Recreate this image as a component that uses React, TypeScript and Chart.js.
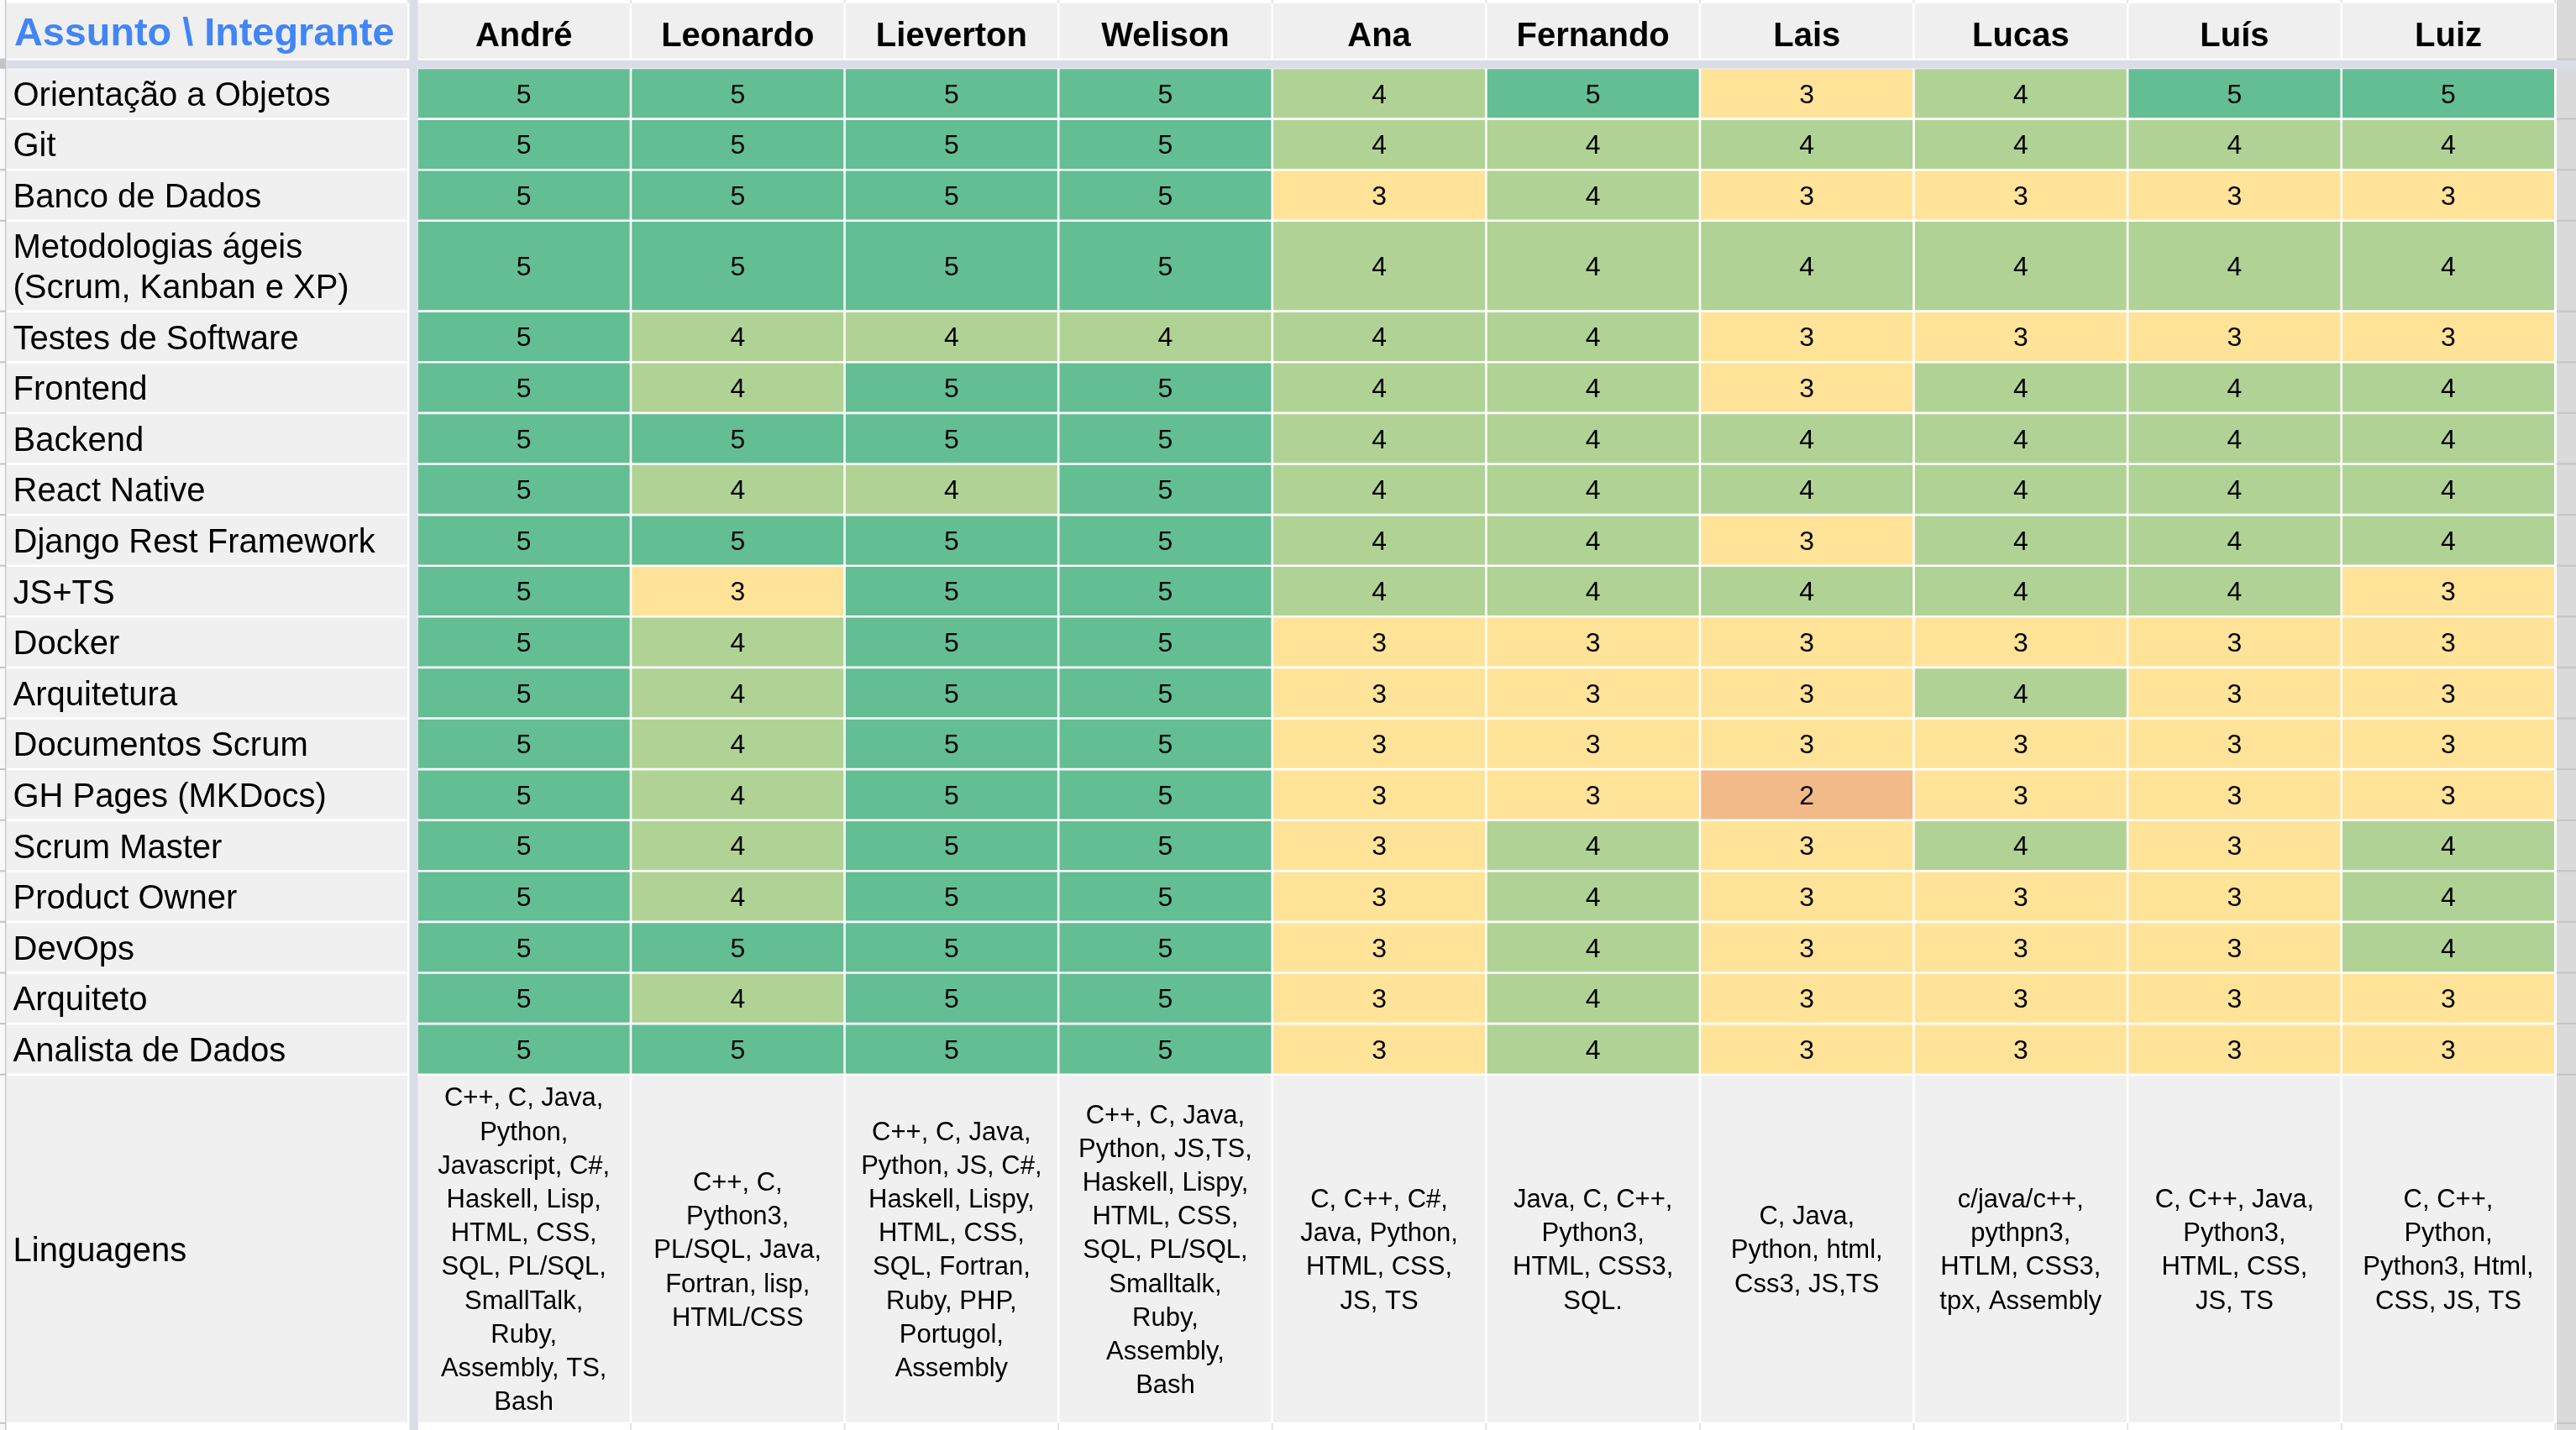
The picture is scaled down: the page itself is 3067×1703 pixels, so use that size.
import React, { useEffect, useRef } from 'react';
import { Chart, registerables } from 'chart.js';

Chart.register(...registerables);

// ---------- DATA ----------
const members = ['André', 'Leonardo', 'Lieverton', 'Welison', 'Ana', 'Fernando', 'Lais', 'Lucas', 'Luís', 'Luiz'];

const subjects: (string | string[])[] = [
  'Orientação a Objetos',
  'Git',
  'Banco de Dados',
  ['Metodologias ágeis', '(Scrum, Kanban e XP)'],
  'Testes de Software',
  'Frontend',
  'Backend',
  'React Native',
  'Django Rest Framework',
  'JS+TS',
  'Docker',
  'Arquitetura',
  'Documentos Scrum',
  'GH Pages (MKDocs)',
  'Scrum Master',
  'Product Owner',
  'DevOps',
  'Arquiteto',
  'Analista de Dados',
];

const languagesLabel = 'Linguagens';

const orientacaoObjetos = [5, 5, 5, 5, 4, 5, 3, 4, 5, 5];
const git = [5, 5, 5, 5, 4, 4, 4, 4, 4, 4];
const bancoDeDados = [5, 5, 5, 5, 3, 4, 3, 3, 3, 3];
const metodologiasAgeis = [5, 5, 5, 5, 4, 4, 4, 4, 4, 4];
const testesDeSoftware = [5, 4, 4, 4, 4, 4, 3, 3, 3, 3];
const frontend = [5, 4, 5, 5, 4, 4, 3, 4, 4, 4];
const backend = [5, 5, 5, 5, 4, 4, 4, 4, 4, 4];
const reactNative = [5, 4, 4, 5, 4, 4, 4, 4, 4, 4];
const djangoRest = [5, 5, 5, 5, 4, 4, 3, 4, 4, 4];
const jsTs = [5, 3, 5, 5, 4, 4, 4, 4, 4, 3];
const docker = [5, 4, 5, 5, 3, 3, 3, 3, 3, 3];
const arquitetura = [5, 4, 5, 5, 3, 3, 3, 4, 3, 3];
const documentosScrum = [5, 4, 5, 5, 3, 3, 3, 3, 3, 3];
const ghPages = [5, 4, 5, 5, 3, 3, 2, 3, 3, 3];
const scrumMaster = [5, 4, 5, 5, 3, 4, 3, 4, 3, 4];
const productOwner = [5, 4, 5, 5, 3, 4, 3, 3, 3, 4];
const devOps = [5, 5, 5, 5, 3, 4, 3, 3, 3, 4];
const arquiteto = [5, 4, 5, 5, 3, 4, 3, 3, 3, 3];
const analistaDeDados = [5, 5, 5, 5, 3, 4, 3, 3, 3, 3];

const scores = [
  orientacaoObjetos, git, bancoDeDados, metodologiasAgeis, testesDeSoftware, frontend, backend,
  reactNative, djangoRest, jsTs, docker, arquitetura, documentosScrum, ghPages, scrumMaster,
  productOwner, devOps, arquiteto, analistaDeDados,
];

const languages = [
  'C++, C, Java,\nPython,\nJavascript, C#,\nHaskell, Lisp,\nHTML, CSS,\nSQL, PL/SQL,\nSmallTalk,\nRuby,\nAssembly, TS,\nBash',
  'C++, C,\nPython3,\nPL/SQL, Java,\nFortran, lisp,\nHTML/CSS',
  'C++, C, Java,\nPython, JS, C#,\nHaskell, Lispy,\nHTML, CSS,\nSQL, Fortran,\nRuby, PHP,\nPortugol,\nAssembly',
  'C++, C, Java,\nPython, JS,TS,\nHaskell, Lispy,\nHTML, CSS,\nSQL, PL/SQL,\nSmalltalk,\nRuby,\nAssembly,\nBash',
  'C, C++, C#,\nJava, Python,\nHTML, CSS,\nJS, TS',
  'Java, C, C++,\nPython3,\nHTML, CSS3,\nSQL.',
  'C, Java,\nPython, html,\nCss3, JS,TS',
  'c/java/c++,\npythpn3,\nHTLM, CSS3,\ntpx, Assembly',
  'C, C++, Java,\nPython3,\nHTML, CSS,\nJS, TS',
  'C, C++,\nPython,\nPython3, Html,\nCSS, JS, TS',
];

const titleText = 'Assunto \\ Integrante';

// ---------- LAYOUT / STYLE ----------
const scoreColors: Record<number, string> = {
  5: '#63be93',
  4: '#b0d395',
  3: '#ffe399',
  2: '#f3ba89',
};
const FONT = "'Liberation Sans', Arial, sans-serif";
const W = 3067;
const H = 1703;
const rowLabels = [...subjects, languagesLabel];
const rowHeights = rowLabels.map((_, i) => (i === 3 ? 1.78 : i === rowLabels.length - 1 ? 6.85 : 1));
const rowStarts: number[] = [];
rowHeights.reduce((acc, h) => {
  rowStarts.push(acc);
  return acc + h;
}, 0);
const totalUnits = rowHeights.reduce((a, b) => a + b, 0);
const rowCenters = rowStarts.map((s, i) => s + rowHeights[i] / 2);
const LABEL_SHIFT = 0.058; // small downward nudge of row-label text (in row units)
const GAP = 1.3;

const tablePlugin = {
  id: 'tablePlugin',
  beforeDraw(chart: any) {
    const { ctx, chartArea: ca, scales } = chart;
    const x = scales.x;
    const y = scales.y;
    ctx.save();
    ctx.fillStyle = '#ffffff';
    ctx.fillRect(0, 0, W, H);
    // left strip
    ctx.fillStyle = '#f8f9fa';
    ctx.fillRect(0, 0, 7, H);
    ctx.fillStyle = '#c7c7c7';
    ctx.fillRect(6, 0, 1.5, H);
    // right strip
    ctx.fillStyle = '#dadada';
    ctx.fillRect(3044, 0, W - 3044, H);
    // header cells
    const colW = (ca.right - ca.left) / members.length;
    ctx.fillStyle = '#efefef';
    ctx.fillRect(8, 4, 477, 66);
    members.forEach((_, i) => {
      const cx = x.getPixelForValue(i);
      ctx.fillRect(cx - colW / 2 + GAP, 4, colW - 2 * GAP, 66);
    });
    // label column cells
    ctx.fillStyle = '#f0f0f0';
    rowStarts.forEach((s, r) => {
      const top = y.getPixelForValue(s);
      const bot = y.getPixelForValue(s + rowHeights[r]);
      ctx.fillRect(8, top + GAP, 477, bot - top - 2 * GAP);
    });
    // row boundary marks in side strips
    ctx.fillStyle = '#c4c4c4';
    const bounds = [70.7, ...rowStarts.slice(1).map((s) => y.getPixelForValue(s)), y.getPixelForValue(totalUnits)];
    bounds.forEach((b) => {
      ctx.fillRect(0, b - 1, 7, 2);
      ctx.fillRect(3044, b - 1, W - 3044, 2);
    });
    // column boundary marks at top and bottom
    ctx.fillStyle = '#e3e3e3';
    for (let i = 0; i <= members.length; i++) {
      const bx = ca.left + i * colW;
      ctx.fillRect(bx - 1, 0, 2, 4);
      ctx.fillRect(bx - 1, ca.bottom, 2, H - ca.bottom);
    }
    ctx.fillRect(485, 0, 2, 4);
    // title
    ctx.fillStyle = '#4285f4';
    ctx.font = `bold 46.8px ${FONT}`;
    ctx.textAlign = 'left';
    ctx.textBaseline = 'alphabetic';
    ctx.fillText(titleText, 17, 54);
    ctx.restore();
  },
  afterDatasetsDraw(chart: any) {
    const { ctx } = chart;
    ctx.save();
    ctx.fillStyle = '#000000';
    ctx.textAlign = 'center';
    ctx.textBaseline = 'alphabetic';
    chart.data.datasets.forEach((_: any, r: number) => {
      const meta = chart.getDatasetMeta(r);
      meta.data.forEach((el: any, c: number) => {
        const p = el.getProps(['x', 'y', 'base'], true);
        const cy = (p.y + p.base) / 2;
        if (r < scores.length) {
          ctx.font = `32px ${FONT}`;
          ctx.fillText(String(scores[r][c]), p.x, cy + 0.358 * 32);
        } else {
          ctx.font = `31px ${FONT}`;
          const lines = languages[c].split('\n');
          const lh = 40.2;
          const y0 = cy - ((lines.length - 1) * lh) / 2;
          lines.forEach((ln, k) => {
            ctx.fillText(ln, p.x, y0 + k * lh + 0.358 * 31);
          });
        }
      });
    });
    // frozen separators
    ctx.fillStyle = '#dadde5';
    ctx.fillRect(0, 71.7, W, 10);
    ctx.fillRect(487.5, 0, 10.2, H);
    ctx.fillStyle = '#c4c4c4';
    ctx.fillRect(0, 71.7, 7, 10);
    ctx.restore();
  },
};

export default function App() {
  const canvasRef = useRef<HTMLCanvasElement | null>(null);

  useEffect(() => {
    document.body.style.overflow = 'hidden';
    const canvas = canvasRef.current;
    if (!canvas) return;
    const datasets = rowLabels.map((label, r) => ({
      label: Array.isArray(label) ? label.join(' ') : label,
      data: members.map(() => [rowStarts[r], rowStarts[r] + rowHeights[r]]),
      backgroundColor: r < scores.length ? scores[r].map((v) => scoreColors[v]) : '#f0f0f0',
      borderColor: '#ffffff',
      borderWidth: GAP,
      borderSkipped: false,
      inflateAmount: 0,
      grouped: false,
      categoryPercentage: 1,
      barPercentage: 1,
    }));

    const chart = new Chart(canvas, {
      type: 'bar',
      data: { labels: members, datasets: datasets as any },
      options: {
        animation: false,
        responsive: false,
        devicePixelRatio: 1,
        layout: { padding: { left: 15.5, right: 24.7, top: 0, bottom: 8.2 } },
        plugins: {
          legend: { display: false },
          tooltip: { enabled: false },
          title: { display: false },
        },
        events: [],
        scales: {
          x: {
            type: 'category',
            position: 'top',
            offset: true,
            grid: { display: false, drawTicks: false },
            border: { display: false },
            ticks: {
              autoSkip: false,
              maxRotation: 0,
              minRotation: 0,
              padding: 13,
              color: '#000000',
              font: { family: FONT, size: 40, weight: 'bold' },
            },
            afterFit: (scale: any) => {
              scale.height = 81;
              scale.paddingLeft = 0;
              scale.paddingRight = 0;
            },
          },
          y: {
            type: 'linear',
            reverse: true,
            min: 0,
            max: totalUnits,
            bounds: 'data',
            grid: { display: false, drawTicks: false },
            border: { display: false },
            afterBuildTicks: (scale: any) => {
              scale.ticks = rowCenters.map((v) => ({ value: v + LABEL_SHIFT }));
            },
            ticks: {
              autoSkip: false,
              crossAlign: 'far',
              color: '#000000',
              font: { family: FONT, size: 40, lineHeight: 1.2 },
              callback: (_v: any, index: number) => rowLabels[index] as any,
            },
            afterFit: (scale: any) => {
              scale.width = 496.4 - 15.5;
              scale.paddingTop = 0;
              scale.paddingBottom = 0;
            },
          },
        },
      } as any,
      plugins: [tablePlugin],
    });
    return () => chart.destroy();
  }, []);

  return (
    <div style={{ position: 'absolute', left: 0, top: 0, width: W, height: H, overflow: 'hidden' }}>
      <canvas ref={canvasRef} width={W} height={H} style={{ width: W, height: H, display: 'block' }} />
    </div>
  );
}
